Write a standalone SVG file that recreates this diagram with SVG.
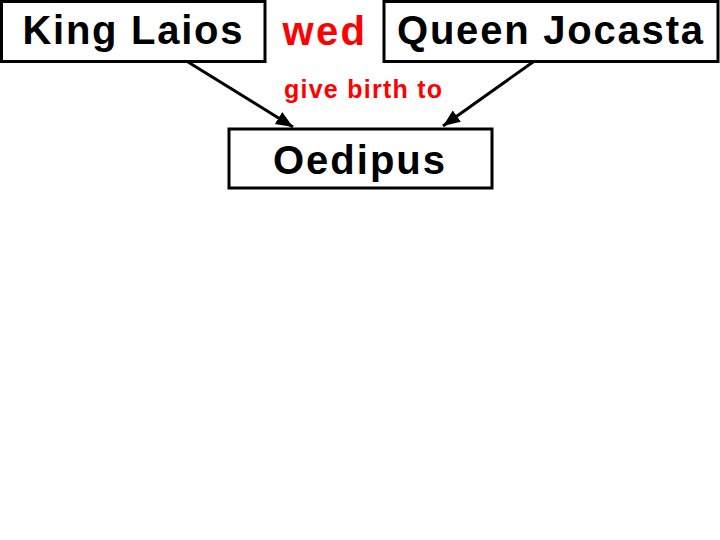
<svg xmlns="http://www.w3.org/2000/svg" width="720" height="540" viewBox="0 0 720 540">
<style>
.box{fill:#fff;stroke:#000;stroke-width:3}
.t{font-family:"Liberation Sans",Arial,sans-serif;font-weight:bold}
.big{font-size:40px;fill:#000}
.red{fill:#f00}
.conn{stroke:#000;stroke-width:3;fill:none}
</style>
<defs>
<marker id="ah" markerUnits="userSpaceOnUse" markerWidth="20" markerHeight="16" refX="17" refY="7" orient="auto">
<path d="M0,0 L17,7 L0,14 Z" fill="#000"/>
</marker>
</defs>
<rect width="720" height="540" fill="#fff"/>
<g id="connectors">
<path class="conn" d="M188,62 L293,127" marker-end="url(#ah)"/>
<path class="conn" d="M533,62 L443,126" marker-end="url(#ah)"/>
</g>
<g id="king-laios">
<rect class="box" x="1.5" y="1.5" width="263.5" height="60"/>
<text class="t big" x="22.5" y="44" textLength="220" lengthAdjust="spacing">King Laios</text>
</g>
<g id="wed">
<text class="t big red" x="282.5" y="45" textLength="82.5" lengthAdjust="spacing">wed</text>
</g>
<g id="queen-jocasta">
<rect class="box" x="384" y="1.5" width="334" height="60"/>
<text class="t big" x="397" y="44" textLength="306" lengthAdjust="spacing">Queen Jocasta</text>
</g>
<g id="give-birth-to">
<text class="t red" x="284" y="98" font-size="25" textLength="158" lengthAdjust="spacing">give birth to</text>
</g>
<g id="oedipus">
<rect class="box" x="229" y="129" width="263" height="59"/>
<text class="t big" x="273" y="174" textLength="172" lengthAdjust="spacing">Oedipus</text>
</g>
</svg>
